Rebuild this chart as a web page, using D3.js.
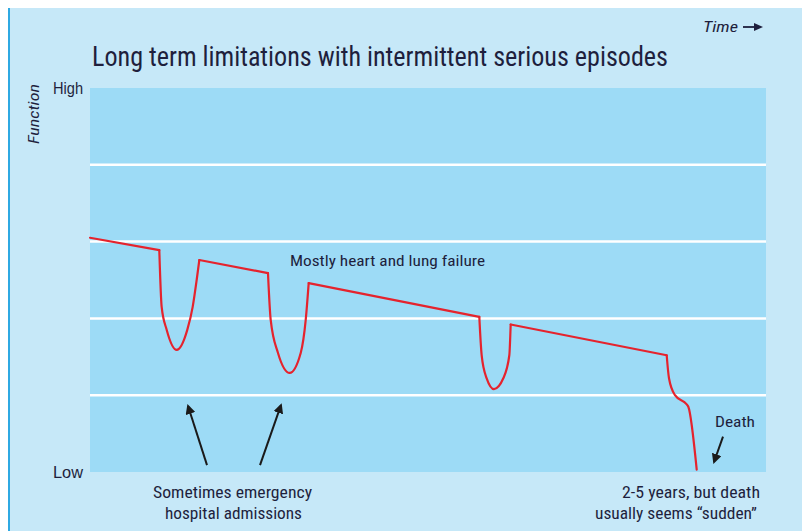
<!DOCTYPE html>
<html>
<head>
<meta charset="utf-8">
<script src="https://cdn.jsdelivr.net/npm/d3@7"></script>
<style>
  html, body { margin: 0; padding: 0; background: #ffffff; }
  svg { display: block; }
  text { font-family: "Liberation Sans Narrow", "Arial Narrow", "Roboto Condensed", "Liberation Sans", sans-serif; fill: #1e1f3d; }
</style>
</head>
<body>
<svg id="chart" width="802" height="531"></svg>
<script>
// ---- data ----
const timePts = [0, 10.25, 10.6, 11.35, 12.83, 14.39, 15.19, 15.78, 16.17,
                 26.33, 26.73, 27.81, 29.54, 31.17, 31.91, 32.35,
                 57.59, 57.94, 58.68, 59.76, 61.14, 62.03, 62.23,
                 85.31, 85.65, 86.54, 88.27, 88.51, 89.75];
const functionPts = [3.05, 2.89, 2.15, 1.85, 1.59, 1.85, 2.15, 2.50, 2.76,
                     2.59, 1.98, 1.55, 1.29, 1.55, 1.98, 2.46,
                     2.02, 1.52, 1.22, 1.08, 1.22, 1.52, 1.92,
                     1.52, 1.22, 1.00, 0.88, 0.85, 0.03];
// index ranges of the curved episodes (the rest are straight declines)
const episodeRanges = [[1, 8], [9, 15], [16, 22], [23, 28]];
const yTickValues = [0, 5];
const yTickLabels = ["Low", "High"];
const gridValues = [1, 2, 3, 4];
const title = "Long term limitations with intermittent serious episodes";
// annotation arrows
const arrowTails = [[17.31, 0.09], [25.15, 0.09], [93.64, 0.46]];
const arrowHeads = [[14.5, 0.86], [28.25, 0.87], [92.31, 0.13]];

// ---- drawing ----
const svg = d3.select("#chart");
const W = 802, H = 531;
const plot = {left: 90, right: 766, top: 88, bottom: 472};

const x = d3.scaleLinear().domain([0, 100]).range([plot.left, plot.right]);
const y = d3.scaleLinear().domain([0, 5]).range([plot.bottom, plot.top]);

// outer panel
svg.append("rect").attr("x", 8).attr("y", 8).attr("width", W - 8).attr("height", H - 8)
  .attr("fill", "#c6e8f8");
svg.append("line").attr("x1", 9).attr("x2", 9).attr("y1", 8).attr("y2", H)
  .attr("stroke", "#2fa9e2").attr("stroke-width", 2);

// plot area
svg.append("rect").attr("x", x(0)).attr("y", y(5))
  .attr("width", x(100) - x(0)).attr("height", y(0) - y(5))
  .attr("fill", "#9ddbf6");

// grid lines
svg.append("g").selectAll("line").data(gridValues).join("line")
  .attr("x1", x(0)).attr("x2", x(100))
  .attr("y1", d => y(d)).attr("y2", d => y(d))
  .attr("stroke", "#ffffff").attr("stroke-width", 2.5);

// y axis labels
const yAxis = d3.axisLeft(y).tickValues(yTickValues)
  .tickFormat((d, i) => yTickLabels[i]).tickSize(0).tickPadding(7);
const gy = svg.append("g").attr("transform", `translate(${plot.left},0)`).call(yAxis);
gy.select(".domain").remove();
gy.selectAll("text").style("font-size", "16px").attr("fill", "#1e1f3d")
  .style("font-family", '"Liberation Sans Narrow", "Arial Narrow", "Liberation Sans", sans-serif')
  .attr("textLength", 30).attr("lengthAdjust", "spacingAndGlyphs");

// axis title "Function"
svg.append("text")
  .attr("transform", `translate(39,114) rotate(-90)`)
  .attr("text-anchor", "middle")
  .style("font-size", "14px").style("font-style", "italic")
  .attr("textLength", 60).attr("lengthAdjust", "spacingAndGlyphs")
  .text("Function");

// Time arrow label
svg.append("text").attr("x", 703).attr("y", 32)
  .style("font-size", "15px").style("font-style", "italic")
  .attr("textLength", 35).attr("lengthAdjust", "spacingAndGlyphs")
  .text("Time");
svg.append("line").attr("x1", 743).attr("x2", 755).attr("y1", 27).attr("y2", 27)
  .attr("stroke", "#1e1f3d").attr("stroke-width", 1.8);
svg.append("path").attr("d", "M754,23 L763,27 L754,31 Z").attr("fill", "#1e1f3d");

// Title
svg.append("text").attr("x", 92).attr("y", 66)
  .style("font-size", "27px")
  .attr("textLength", 576).attr("lengthAdjust", "spacingAndGlyphs")
  .text(title);

// trajectory line: straight declines + curved episodes
const pts = timePts.map((t, i) => [t, functionPts[i]]);
const curved = d3.line().x(d => x(d[0])).y(d => y(d[1])).curve(d3.curveMonotoneX);
const straight = d3.line().x(d => x(d[0])).y(d => y(d[1]));
const pieces = [];
let prev = 0;
episodeRanges.forEach(([a, b]) => {
  pieces.push({pts: pts.slice(prev, a + 1), gen: straight});
  pieces.push({pts: pts.slice(a, b + 1), gen: curved});
  prev = b;
});
if (prev < pts.length - 1) pieces.push({pts: pts.slice(prev), gen: straight});
svg.append("g").selectAll("path").data(pieces).join("path")
  .attr("d", d => d.gen(d.pts))
  .attr("fill", "none").attr("stroke", "#e5232d").attr("stroke-width", 2.2)
  .attr("stroke-linejoin", "round").attr("stroke-linecap", "round");

// arrows
svg.append("defs").append("marker").attr("id", "ah")
  .attr("viewBox", "0 0 10 10").attr("refX", 8).attr("refY", 5)
  .attr("markerWidth", 5).attr("markerHeight", 5).attr("orient", "auto")
  .append("path").attr("d", "M0,0 L10,5 L0,10 Z").attr("fill", "#1a1a1a");
svg.append("g").selectAll("line").data(arrowTails).join("line")
  .attr("x1", d => x(d[0])).attr("y1", d => y(d[1]))
  .attr("x2", (d, i) => x(arrowHeads[i][0])).attr("y2", (d, i) => y(arrowHeads[i][1]))
  .attr("stroke", "#1a1a1a").attr("stroke-width", 2)
  .attr("marker-end", "url(#ah)");

// annotations
svg.append("text").attr("x", 290).attr("y", 266)
  .style("font-size", "15px")
  .attr("textLength", 195).attr("lengthAdjust", "spacingAndGlyphs")
  .text("Mostly heart and lung failure");

svg.append("text").attr("x", 715).attr("y", 427)
  .style("font-size", "15px")
  .attr("textLength", 40).attr("lengthAdjust", "spacingAndGlyphs")
  .text("Death");

svg.append("text").attr("x", 153).attr("y", 498)
  .style("font-size", "16px")
  .attr("textLength", 159).attr("lengthAdjust", "spacingAndGlyphs")
  .text("Sometimes emergency");
svg.append("text").attr("x", 165).attr("y", 519)
  .style("font-size", "16px")
  .attr("textLength", 137).attr("lengthAdjust", "spacingAndGlyphs")
  .text("hospital admissions");

svg.append("text").attr("x", 622).attr("y", 498)
  .style("font-size", "16px")
  .attr("textLength", 138).attr("lengthAdjust", "spacingAndGlyphs")
  .text("2-5 years, but death");
svg.append("text").attr("x", 595).attr("y", 519)
  .style("font-size", "16px")
  .attr("textLength", 162).attr("lengthAdjust", "spacingAndGlyphs")
  .text("usually seems \u201csudden\u201d");
</script>
</body>
</html>
